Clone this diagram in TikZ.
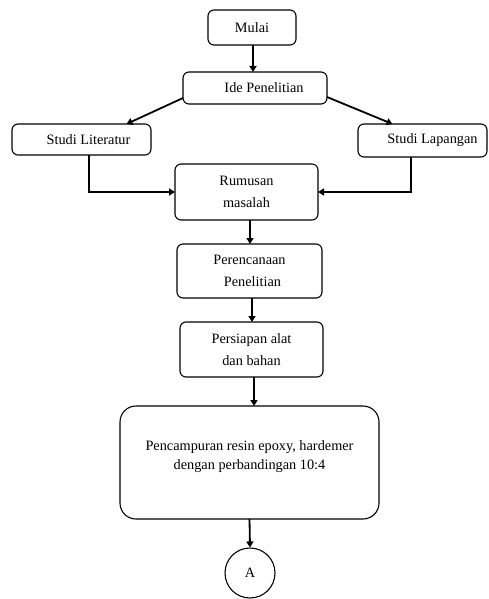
\documentclass[tikz,border=0pt]{standalone}
\usepackage{fontspec}
\setmainfont{Liberation Serif}
\usetikzlibrary{arrows.meta}
\begin{document}
\begin{tikzpicture}[x=1pt,y=-1pt,
  box/.style={draw, line width=1.1pt, rounded corners=6pt, inner sep=0pt, outer sep=0pt, align=center, font=\fontsize{14.3}{21.5}\selectfont},
  arr/.style={line width=1.8pt, -{Triangle[length=6pt,width=7pt]}},
]
\useasboundingbox (0,0) rectangle (488,599);
\node[box, minimum width=88pt, minimum height=35pt] (mulai) at (252,27.5) {Mulai};
\node[box, minimum width=144pt, minimum height=32pt] (ide) at (255,88) {\hspace*{18pt}Ide Penelitian};
\node[box, minimum width=139pt, minimum height=31pt] (lit) at (81.5,139.5) {\hspace*{14pt}Studi Literatur};
\node[box, minimum width=129pt, minimum height=33pt] (lap) at (422.5,140.5) {\hspace*{20pt}Studi Lapangan};
\node[box, minimum width=143pt, minimum height=56pt] (rum) at (246.5,192) {Rumusan\\masalah};
\node[box, minimum width=145pt, minimum height=54pt] (ren) at (249.5,271) {Perencanaan\\\hspace*{6pt}Penelitian};
\node[box, minimum width=143pt, minimum height=55pt] (pers) at (251.5,349.5) {Persiapan alat\\dan bahan};
\node[box, rounded corners=16pt, minimum width=259pt, minimum height=113pt] (mix) at (249.5,462.5) {};
\node[align=center, inner sep=0pt, font=\fontsize{14.3}{19}\selectfont] (mixtext) at ([yshift=6pt]mix.center) {Pencampuran resin epoxy, hardemer\\dengan perbandingan 10:4};
\node[draw, circle, line width=1.1pt, minimum size=50pt, inner sep=0pt, font=\fontsize{14.3}{17}\selectfont] (A) at (250,573) {A};
\draw[arr] ([xshift=1pt]mulai.south) -- ([xshift=1pt]mulai.south |- ide.north);
\draw[arr] ([yshift=6pt]ide.south west) -- ([xshift=45pt]lit.north);
\draw[arr] ([yshift=7pt]ide.south east) -- ([xshift=-30pt]lap.north);
\draw[arr] ([xshift=7.5pt]lit.south) |- (rum.west);
\draw[arr] ([xshift=-11.5pt]lap.south) |- (rum.east);
\draw[arr] ([xshift=3.5pt]rum.south) -- ([xshift=3.5pt]rum.south |- ren.north);
\draw[arr] ([xshift=2.5pt]ren.south) -- ([xshift=2.5pt]ren.south |- pers.north);
\draw[arr] ([xshift=2.5pt]pers.south) -- ([xshift=2.5pt]pers.south |- mix.north);
\draw[arr] (mix.south) -- (A.north);
\end{tikzpicture}
\end{document}
